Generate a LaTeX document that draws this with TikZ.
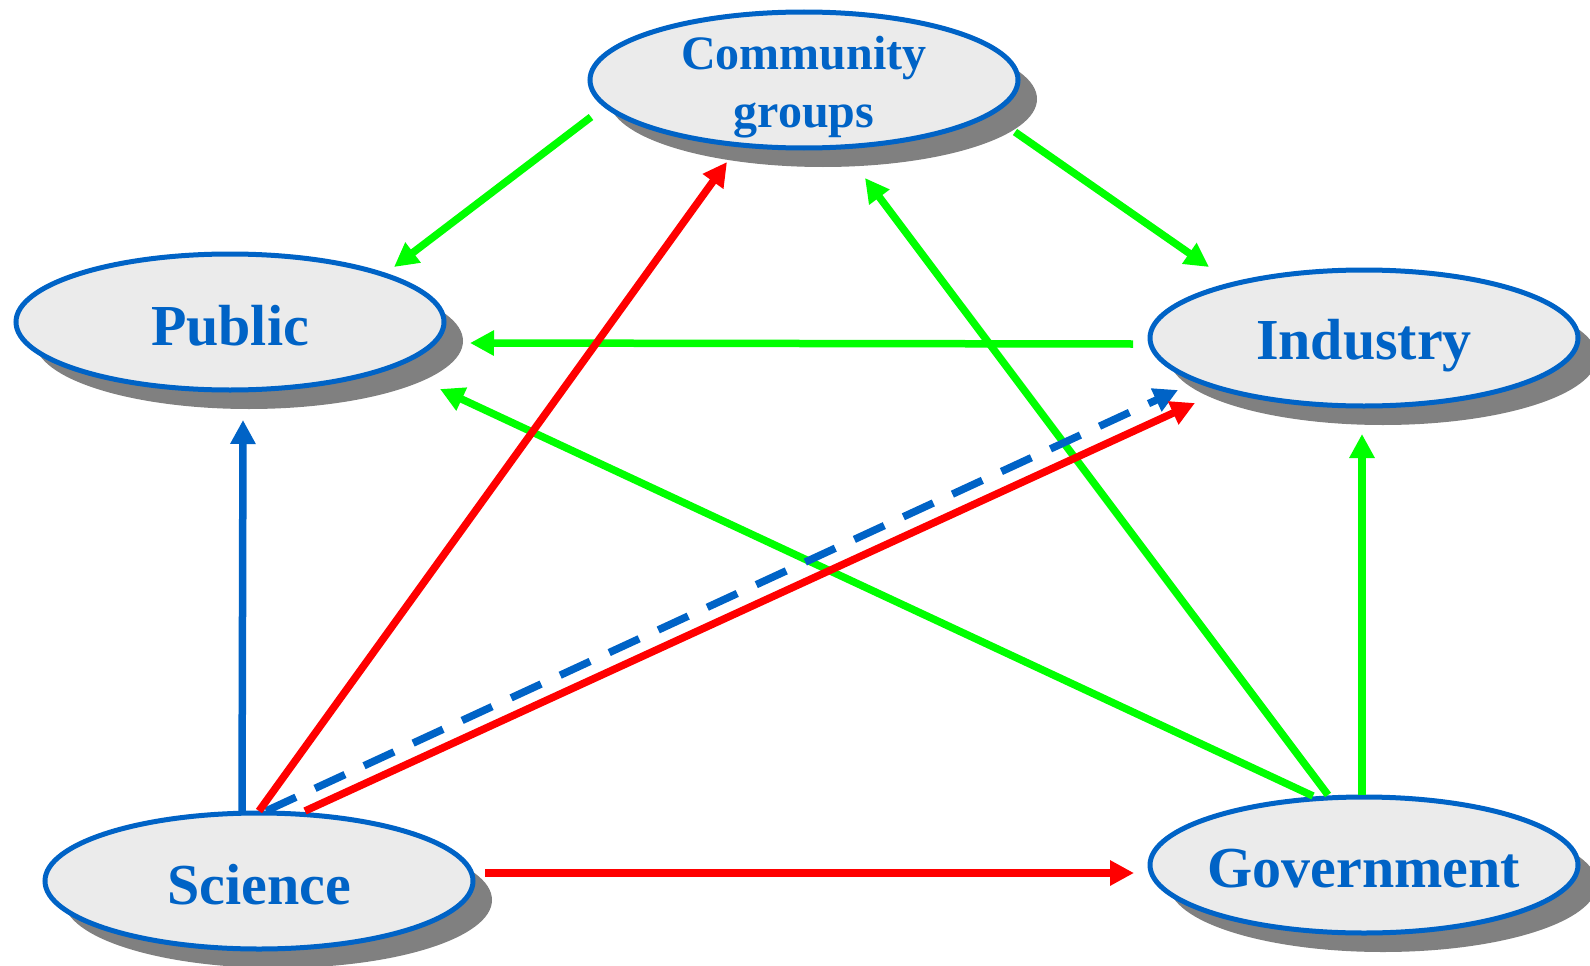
\documentclass[tikz,border=0pt]{standalone}
\usepackage{fontspec}
\setmainfont{Liberation Serif}
\usetikzlibrary{calc,shadows,shapes.geometric,arrows.meta}

\definecolor{entblue}{RGB}{0,99,198}
\definecolor{entfill}{RGB}{235,235,235}
\definecolor{shadowgray}{RGB}{128,128,128}
\definecolor{lgreen}{RGB}{0,255,0}
\definecolor{lred}{RGB}{255,0,0}

\tikzset{
  ent/.style={ellipse, draw=entblue, fill=entfill, line width=5pt,
    minimum width=428pt, minimum height=136pt, inner sep=0pt,
    drop shadow={shadow xshift=19pt, shadow yshift=-19pt, fill=shadowgray, opacity=1}},
  txt/.style={text=entblue, font=\bfseries\fontsize{58}{62}\selectfont, inner sep=0pt, yshift=-4pt},
  ctxt/.style={text=entblue, font=\bfseries\fontsize{48}{58}\selectfont, inner sep=0pt, align=center, yshift=-7pt},
  link/.style={line width=7.5pt, -{Triangle[length=24pt, width=24pt]}},
  garr/.style={link, draw=lgreen},
  rarr/.style={link, draw=lred},
  barr/.style={link, draw=entblue},
  bdash/.style={barr, dash pattern=on 33pt off 21pt}
}

\begin{document}
\begin{tikzpicture}[x=1pt, y=-1pt]

\useasboundingbox (0,0) rectangle (1590,966);

\node[ent, label={[ctxt]center:{Community\\groups}}] (com) at (804,80) {};
\node[ent, label={[txt]center:Public}] (pub) at (230,322) {};
\node[ent, label={[txt, yshift=-4pt]center:Industry}] (ind) at (1364,338) {};
\node[ent, label={[txt]center:Science}] (sci) at (259,881) {};
\node[ent, label={[txt]center:Government}] (gov) at (1364,865) {};

\draw[garr] ($(com)+(-213,37)$) -- ($(pub)+(164,-55)$);
\draw[garr] ($(com)+(211,52)$) -- ($(ind)+(-155,-71)$);
\draw[garr] ($(ind)+(-231,6)$) -- ($(pub)+(240,21)$);
\draw[garr] ($(gov)+(-51,-69)$) -- ($(pub)+(210,67)$);
\draw[garr] ($(gov)+(-36,-70)$) -- ($(com)+(61,98)$);
\draw[garr] ($(gov)+(-2,-70)$) -- ($(ind)+(-2,96)$);

\draw[barr] ($(sci)+(-17,-70)$) -- ($(pub)+(13,98)$);
\draw[bdash] ($(sci)+(7,-70)$) -- ($(ind)+(-186,52)$);

\draw[rarr] ($(sci)+(0,-70)$) -- ($(com)+(-77,82)$);
\draw[rarr] ($(sci)+(46,-70)$) -- ($(ind)+(-169,65)$);
\draw[rarr] ($(sci)+(226,-8)$) -- ($(gov)+(-230,8)$);

\end{tikzpicture}
\end{document}
